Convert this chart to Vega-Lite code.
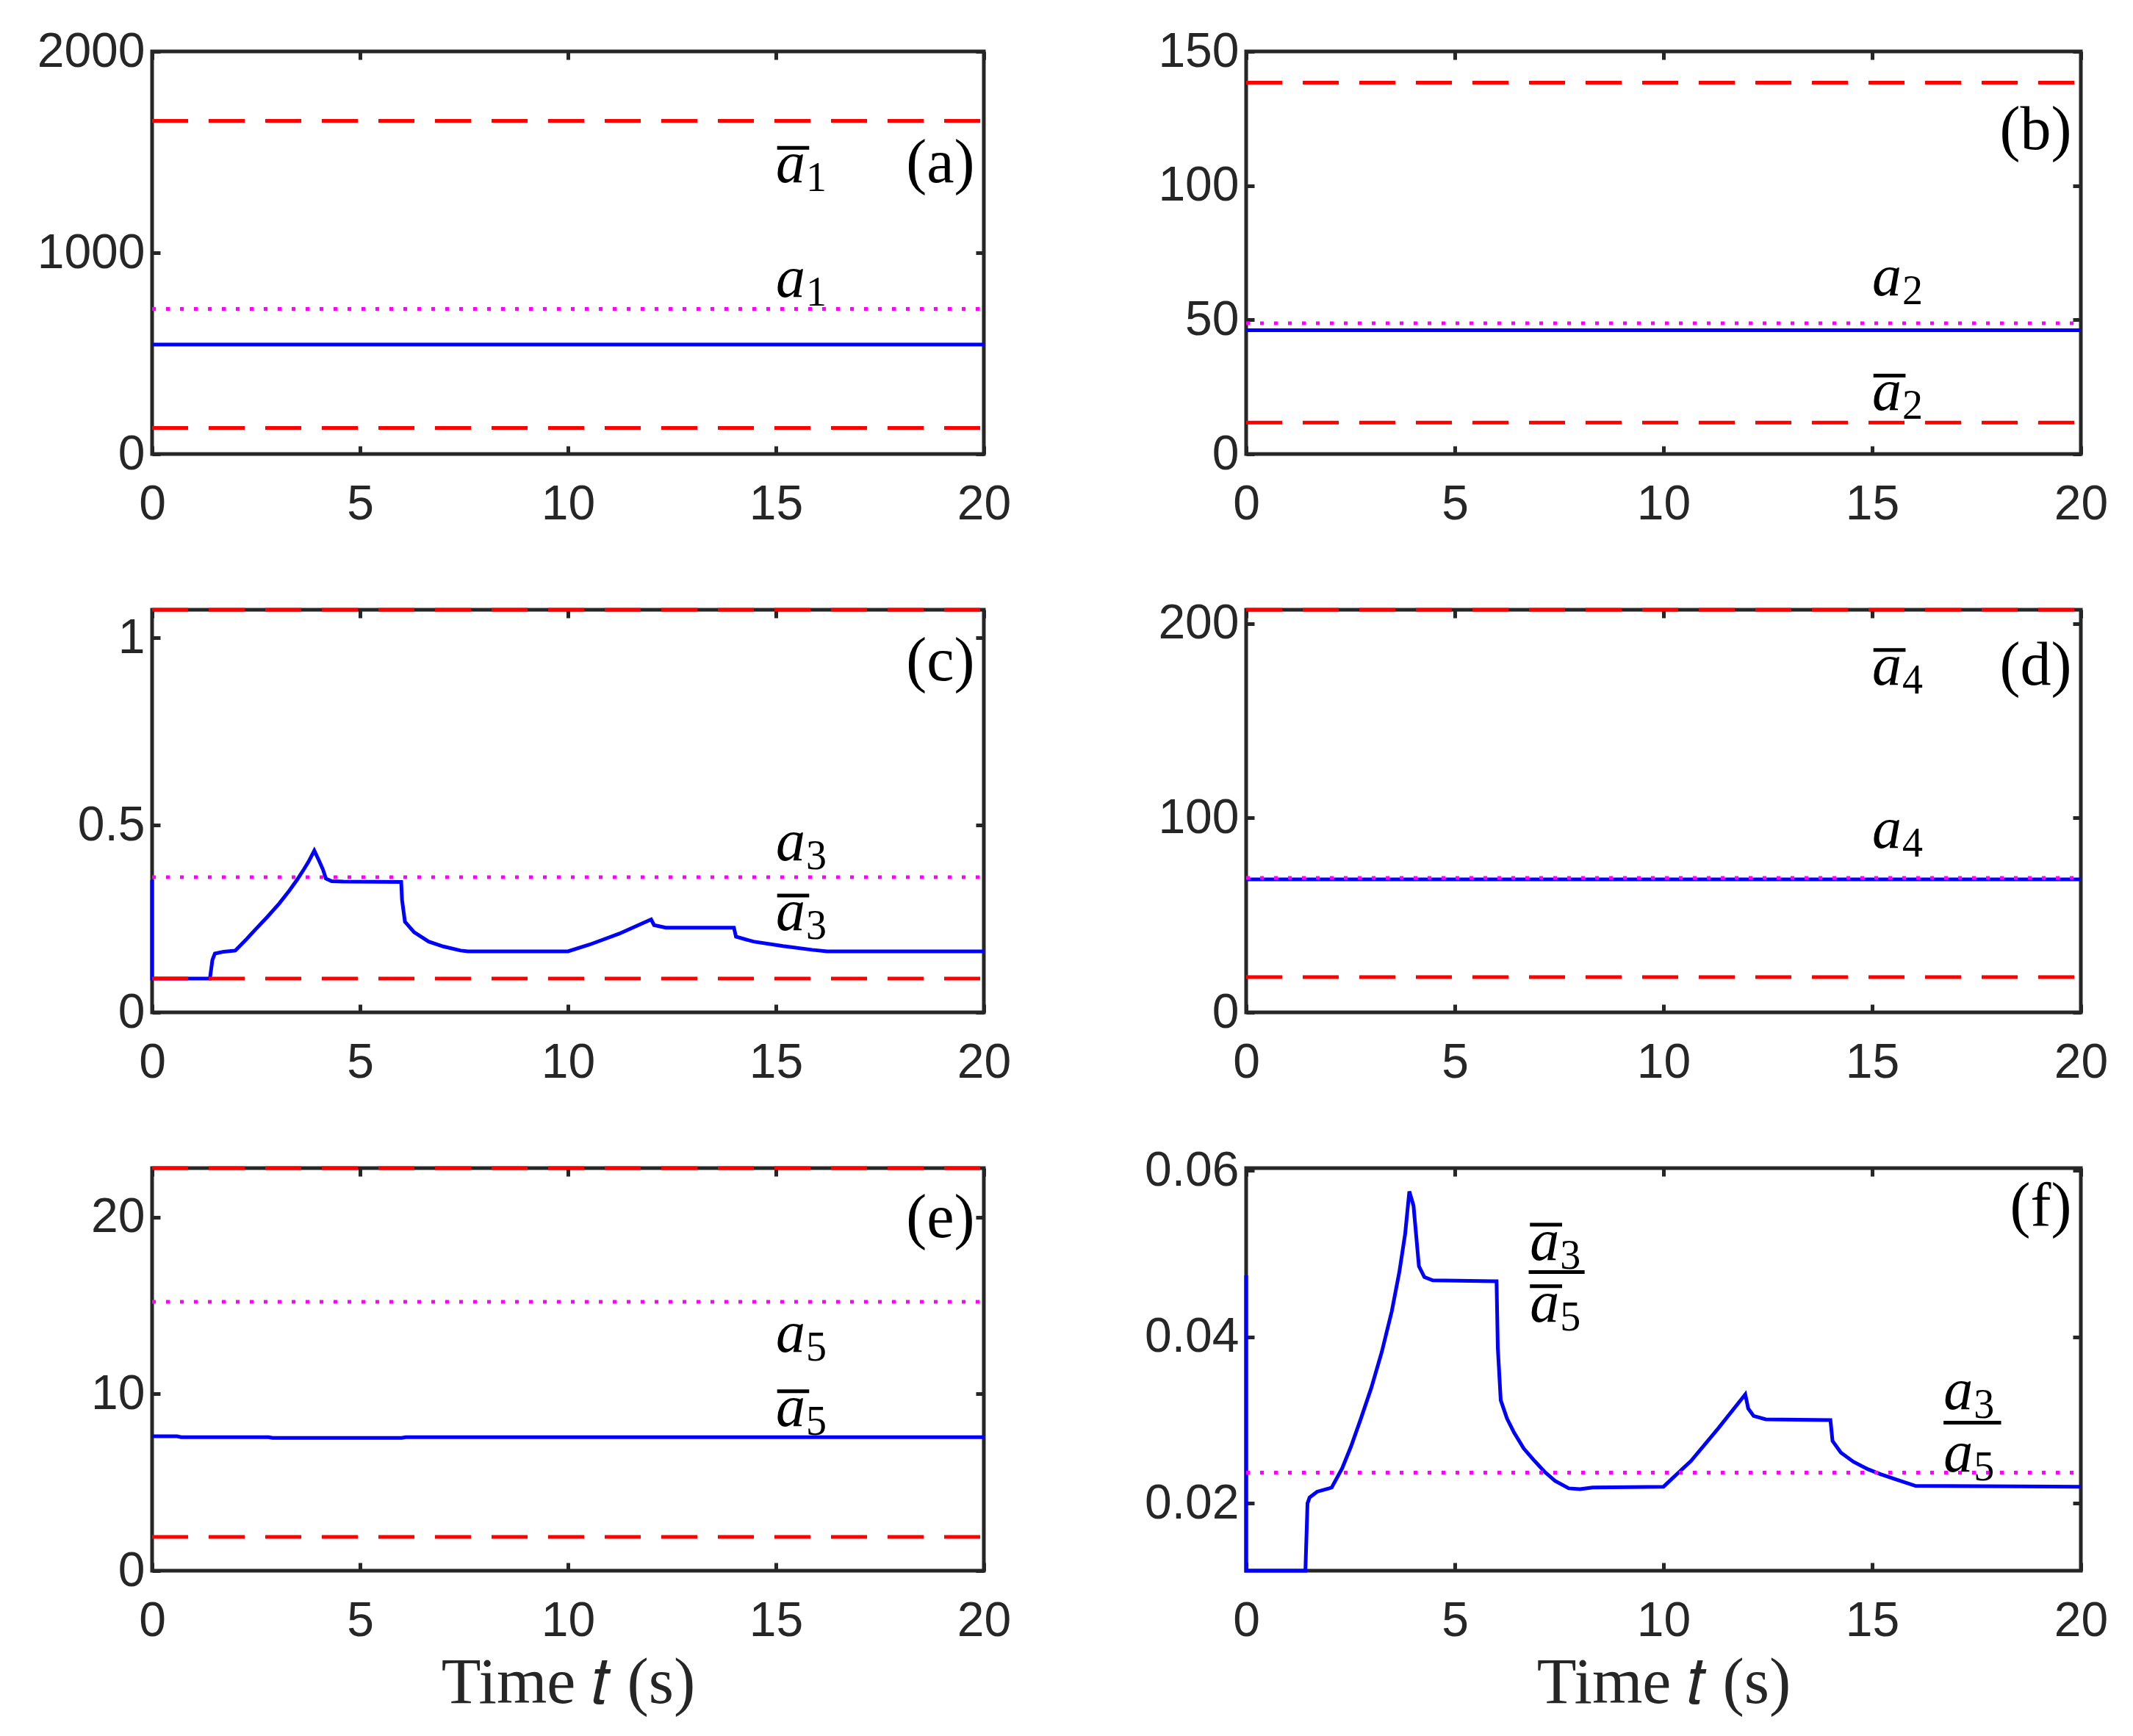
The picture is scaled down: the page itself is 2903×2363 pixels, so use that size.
{
  "$schema": "https://vega.github.io/schema/vega-lite/v6.json",
  "background": "white",
  "padding": {"left": 47, "top": 34, "right": 40, "bottom": 20},
  "config": {
    "view": {"stroke": "#262626", "strokeWidth": 5},
    "axis": {
      "grid": false, "domain": false, "labelFlush": false, "labelOverlap": false,
      "tickSize": -11, "tickWidth": 5, "tickColor": "#262626",
      "labelFont": "Liberation Sans", "labelFontSize": 66, "labelColor": "#262626", "labelLimit": 400,
      "titleFont": "Liberation Serif", "titleFontSize": 88, "titleFontWeight": "normal", "titleColor": "#262626",
      "titlePadding": 8
    },
    "axisX": {"labelPadding": 47},
    "axisY": {"labelPadding": 21}
  },
  "datasets": {
    "lines": [
      {"p": "a", "s": "est", "t": 0, "v": 544}, {"p": "a", "s": "est", "t": 20, "v": 544},
      {"p": "a", "s": "nom", "t": 0, "v": 721}, {"p": "a", "s": "nom", "t": 20, "v": 721},
      {"p": "a", "s": "up", "t": 0, "v": 1655}, {"p": "a", "s": "up", "t": 20, "v": 1655},
      {"p": "a", "s": "lo", "t": 0, "v": 130}, {"p": "a", "s": "lo", "t": 20, "v": 130},

      {"p": "b", "s": "est", "t": 0, "v": 46.1}, {"p": "b", "s": "est", "t": 20, "v": 46.1},
      {"p": "b", "s": "nom", "t": 0, "v": 48.7}, {"p": "b", "s": "nom", "t": 20, "v": 48.7},
      {"p": "b", "s": "up", "t": 0, "v": 138.4}, {"p": "b", "s": "up", "t": 20, "v": 138.4},
      {"p": "b", "s": "lo", "t": 0, "v": 11.7}, {"p": "b", "s": "lo", "t": 20, "v": 11.7},

      {"p": "c", "s": "est", "t": 0, "v": 0.353}, {"p": "c", "s": "est", "t": 0, "v": 0.09},
      {"p": "c", "s": "est", "t": 1.39, "v": 0.09}, {"p": "c", "s": "est", "t": 1.45, "v": 0.14},
      {"p": "c", "s": "est", "t": 1.51, "v": 0.157}, {"p": "c", "s": "est", "t": 1.72, "v": 0.162},
      {"p": "c", "s": "est", "t": 2.0, "v": 0.165}, {"p": "c", "s": "est", "t": 2.25, "v": 0.193},
      {"p": "c", "s": "est", "t": 2.49, "v": 0.222}, {"p": "c", "s": "est", "t": 2.78, "v": 0.256},
      {"p": "c", "s": "est", "t": 3.06, "v": 0.291}, {"p": "c", "s": "est", "t": 3.3, "v": 0.325},
      {"p": "c", "s": "est", "t": 3.48, "v": 0.353}, {"p": "c", "s": "est", "t": 3.65, "v": 0.382},
      {"p": "c", "s": "est", "t": 3.76, "v": 0.402}, {"p": "c", "s": "est", "t": 3.9, "v": 0.432},
      {"p": "c", "s": "est", "t": 4.01, "v": 0.406}, {"p": "c", "s": "est", "t": 4.11, "v": 0.381},
      {"p": "c", "s": "est", "t": 4.18, "v": 0.357}, {"p": "c", "s": "est", "t": 4.32, "v": 0.35},
      {"p": "c", "s": "est", "t": 4.6, "v": 0.349}, {"p": "c", "s": "est", "t": 5.99, "v": 0.348},
      {"p": "c", "s": "est", "t": 6.01, "v": 0.3}, {"p": "c", "s": "est", "t": 6.08, "v": 0.242},
      {"p": "c", "s": "est", "t": 6.3, "v": 0.214}, {"p": "c", "s": "est", "t": 6.65, "v": 0.189},
      {"p": "c", "s": "est", "t": 7.0, "v": 0.176}, {"p": "c", "s": "est", "t": 7.42, "v": 0.165},
      {"p": "c", "s": "est", "t": 7.6, "v": 0.163}, {"p": "c", "s": "est", "t": 10.0, "v": 0.163},
      {"p": "c", "s": "est", "t": 10.52, "v": 0.181}, {"p": "c", "s": "est", "t": 11.23, "v": 0.21},
      {"p": "c", "s": "est", "t": 12.0, "v": 0.248}, {"p": "c", "s": "est", "t": 12.07, "v": 0.233},
      {"p": "c", "s": "est", "t": 12.35, "v": 0.226}, {"p": "c", "s": "est", "t": 13.99, "v": 0.226},
      {"p": "c", "s": "est", "t": 14.04, "v": 0.202}, {"p": "c", "s": "est", "t": 14.46, "v": 0.189},
      {"p": "c", "s": "est", "t": 15.17, "v": 0.177}, {"p": "c", "s": "est", "t": 15.87, "v": 0.167},
      {"p": "c", "s": "est", "t": 16.23, "v": 0.163}, {"p": "c", "s": "est", "t": 20, "v": 0.163},
      {"p": "c", "s": "nom", "t": 0, "v": 0.361}, {"p": "c", "s": "nom", "t": 20, "v": 0.361},
      {"p": "c", "s": "up", "t": 0, "v": 1.075}, {"p": "c", "s": "up", "t": 20, "v": 1.075},
      {"p": "c", "s": "lo", "t": 0, "v": 0.09}, {"p": "c", "s": "lo", "t": 20, "v": 0.09},

      {"p": "d", "s": "est", "t": 0, "v": 68.4}, {"p": "d", "s": "est", "t": 20, "v": 68.4},
      {"p": "d", "s": "nom", "t": 0, "v": 69.1}, {"p": "d", "s": "nom", "t": 20, "v": 69.1},
      {"p": "d", "s": "up", "t": 0, "v": 207}, {"p": "d", "s": "up", "t": 20, "v": 207},
      {"p": "d", "s": "lo", "t": 0, "v": 18.1}, {"p": "d", "s": "lo", "t": 20, "v": 18.1},

      {"p": "e", "s": "est", "t": 0, "v": 7.6}, {"p": "e", "s": "est", "t": 0.6, "v": 7.6},
      {"p": "e", "s": "est", "t": 0.7, "v": 7.55}, {"p": "e", "s": "est", "t": 2.8, "v": 7.55},
      {"p": "e", "s": "est", "t": 2.9, "v": 7.51}, {"p": "e", "s": "est", "t": 6.0, "v": 7.51},
      {"p": "e", "s": "est", "t": 6.1, "v": 7.55}, {"p": "e", "s": "est", "t": 20, "v": 7.55},
      {"p": "e", "s": "nom", "t": 0, "v": 15.21}, {"p": "e", "s": "nom", "t": 20, "v": 15.21},
      {"p": "e", "s": "up", "t": 0, "v": 22.77}, {"p": "e", "s": "up", "t": 20, "v": 22.77},
      {"p": "e", "s": "lo", "t": 0, "v": 1.91}, {"p": "e", "s": "lo", "t": 20, "v": 1.91},

      {"p": "f", "s": "est", "t": 0, "v": 0.0474}, {"p": "f", "s": "est", "t": 0, "v": 0.0119},
      {"p": "f", "s": "est", "t": 1.42, "v": 0.0119}, {"p": "f", "s": "est", "t": 1.47, "v": 0.02},
      {"p": "f", "s": "est", "t": 1.52, "v": 0.0207}, {"p": "f", "s": "est", "t": 1.7, "v": 0.0214},
      {"p": "f", "s": "est", "t": 1.99, "v": 0.0218}, {"p": "f", "s": "est", "t": 2.05, "v": 0.0219},
      {"p": "f", "s": "est", "t": 2.3, "v": 0.0242}, {"p": "f", "s": "est", "t": 2.51, "v": 0.0268},
      {"p": "f", "s": "est", "t": 2.75, "v": 0.0302}, {"p": "f", "s": "est", "t": 3.0, "v": 0.0339},
      {"p": "f", "s": "est", "t": 3.25, "v": 0.0382}, {"p": "f", "s": "est", "t": 3.49, "v": 0.0431},
      {"p": "f", "s": "est", "t": 3.67, "v": 0.0478}, {"p": "f", "s": "est", "t": 3.81, "v": 0.0524},
      {"p": "f", "s": "est", "t": 3.91, "v": 0.0575},
      {"p": "f", "s": "est", "t": 4.01, "v": 0.0558}, {"p": "f", "s": "est", "t": 4.14, "v": 0.0485},
      {"p": "f", "s": "est", "t": 4.27, "v": 0.0472}, {"p": "f", "s": "est", "t": 4.47, "v": 0.0468},
      {"p": "f", "s": "est", "t": 6.0, "v": 0.0467}, {"p": "f", "s": "est", "t": 6.03, "v": 0.0387},
      {"p": "f", "s": "est", "t": 6.1, "v": 0.0324}, {"p": "f", "s": "est", "t": 6.25, "v": 0.0302},
      {"p": "f", "s": "est", "t": 6.42, "v": 0.0285}, {"p": "f", "s": "est", "t": 6.65, "v": 0.0266},
      {"p": "f", "s": "est", "t": 6.91, "v": 0.0251}, {"p": "f", "s": "est", "t": 7.15, "v": 0.0238},
      {"p": "f", "s": "est", "t": 7.4, "v": 0.0227},
      {"p": "f", "s": "est", "t": 7.73, "v": 0.0218}, {"p": "f", "s": "est", "t": 8.0, "v": 0.0217},
      {"p": "f", "s": "est", "t": 8.3, "v": 0.0219}, {"p": "f", "s": "est", "t": 10.0, "v": 0.022},
      {"p": "f", "s": "est", "t": 10.66, "v": 0.0251}, {"p": "f", "s": "est", "t": 11.31, "v": 0.029},
      {"p": "f", "s": "est", "t": 11.96, "v": 0.0331}, {"p": "f", "s": "est", "t": 12.03, "v": 0.0314},
      {"p": "f", "s": "est", "t": 12.16, "v": 0.0305}, {"p": "f", "s": "est", "t": 12.45, "v": 0.0301},
      {"p": "f", "s": "est", "t": 14.0, "v": 0.03}, {"p": "f", "s": "est", "t": 14.05, "v": 0.0275},
      {"p": "f", "s": "est", "t": 14.25, "v": 0.0261}, {"p": "f", "s": "est", "t": 14.55, "v": 0.025},
      {"p": "f", "s": "est", "t": 14.9, "v": 0.0241}, {"p": "f", "s": "est", "t": 15.2, "v": 0.0235},
      {"p": "f", "s": "est", "t": 15.55, "v": 0.0229}, {"p": "f", "s": "est", "t": 16.04, "v": 0.0221},
      {"p": "f", "s": "est", "t": 20, "v": 0.022},
      {"p": "f", "s": "nom", "t": 0, "v": 0.0237}, {"p": "f", "s": "nom", "t": 20, "v": 0.0237}
    ],
    "labels": [
      {"p": "a", "t": 15, "v": 1350, "base": "a", "sub": "1"},
      {"p": "a", "t": 15, "v": 780, "base": "a", "sub": "1"},
      {"p": "b", "t": 15, "v": 59, "base": "a", "sub": "2"},
      {"p": "b", "t": 15, "v": 16.3, "base": "a", "sub": "2"},
      {"p": "c", "t": 15, "v": 0.406, "base": "a", "sub": "3"},
      {"p": "c", "t": 15, "v": 0.22, "base": "a", "sub": "3"},
      {"p": "d", "t": 15, "v": 168.5, "base": "a", "sub": "4"},
      {"p": "d", "t": 15, "v": 84.6, "base": "a", "sub": "4"},
      {"p": "e", "t": 15, "v": 12.4, "base": "a", "sub": "5"},
      {"p": "e", "t": 15, "v": 8.2, "base": "a", "sub": "5"},
      {"p": "f", "t": 6.8, "v": 0.0493, "base": "a", "sub": "3"},
      {"p": "f", "t": 6.8, "v": 0.0418, "base": "a", "sub": "5"},
      {"p": "f", "t": 16.71, "v": 0.0313, "base": "a", "sub": "3"},
      {"p": "f", "t": 16.71, "v": 0.0238, "base": "a", "sub": "5"}
    ],
    "tags": [
      {"p": "a", "t": 19.78, "v": 1350, "txt": "(a)"},
      {"p": "b", "t": 19.78, "v": 113.5, "txt": "(b)"},
      {"p": "c", "t": 19.78, "v": 0.886, "txt": "(c)"},
      {"p": "d", "t": 19.78, "v": 168.5, "txt": "(d)"},
      {"p": "e", "t": 19.78, "v": 18.86, "txt": "(e)"},
      {"p": "f", "t": 19.78, "v": 0.0534, "txt": "(f)"}
    ],
    "bars": [
      {"p": "a", "t": 15.03, "t2": 15.8, "v": 1521},
      {"p": "b", "t": 15.03, "t2": 15.8, "v": 29.2},
      {"p": "c", "t": 15.03, "t2": 15.8, "v": 0.312},
      {"p": "d", "t": 15.03, "t2": 15.8, "v": 186.3},
      {"p": "e", "t": 15.03, "t2": 15.8, "v": 10.15},
      {"p": "f", "t": 6.8, "t2": 7.57, "v": 0.0535},
      {"p": "f", "t": 6.8, "t2": 7.57, "v": 0.0461},
      {"p": "f", "t": 6.77, "t2": 8.11, "v": 0.0478},
      {"p": "f", "t": 16.71, "t2": 18.09, "v": 0.0297}
    ]
  },
  "columns": 2,
  "spacing": {"row": 212, "column": 357},
  "bounds": "flush",
  "concat": [
    {
      "width": 1132, "height": 548,
      "resolve": {"axis": {"x": "independent", "y": "independent"}},
      "layer": [
        {"data": {"name": "lines"}, "transform": [{"filter": "datum.p=='a' && datum.s=='est'"}],
         "mark": {"type": "line", "color": "#0000FF", "strokeWidth": 5},
         "encoding": {
           "x": {"field": "t", "type": "quantitative", "scale": {"domain": [0, 20], "nice": false, "zero": false}, "axis": {"values": [0, 5, 10, 15, 20], "title": null}},
           "y": {"field": "v", "type": "quantitative", "scale": {"domain": [0, 2000], "nice": false, "zero": false}, "axis": {"values": [0, 1000, 2000], "format": "d", "title": null}},
           "order": {"value": null}}},
        {"data": {"name": "lines"}, "transform": [{"filter": "datum.p=='a' && datum.s=='nom'"}],
         "mark": {"type": "line", "color": "#FF00FF", "strokeWidth": 5, "strokeDash": [5, 14]},
         "encoding": {
           "x": {"field": "t", "type": "quantitative", "scale": {"domain": [0, 20], "nice": false, "zero": false}, "axis": null},
           "y": {"field": "v", "type": "quantitative", "scale": {"domain": [0, 2000], "nice": false, "zero": false}, "axis": null}}},
        {"data": {"name": "lines"}, "transform": [{"filter": "datum.p=='a' && (datum.s=='up' || datum.s=='lo')"}],
         "mark": {"type": "line", "color": "#FF0000", "strokeWidth": 5, "strokeDash": [49, 28]},
         "encoding": {
           "x": {"field": "t", "type": "quantitative", "scale": {"domain": [0, 20], "nice": false, "zero": false}, "axis": null},
           "y": {"field": "v", "type": "quantitative", "scale": {"domain": [0, 2000], "nice": false, "zero": false}, "axis": null},
           "detail": {"field": "s"}}},
        {"data": {"name": "bars"}, "transform": [{"filter": "datum.p=='a'"}],
         "mark": {"type": "rule", "color": "#000000", "strokeWidth": 5},
         "encoding": {
           "x": {"field": "t", "type": "quantitative", "scale": {"domain": [0, 20], "nice": false, "zero": false}, "axis": null},
           "x2": {"field": "t2"},
           "y": {"field": "v", "type": "quantitative", "scale": {"domain": [0, 2000], "nice": false, "zero": false}, "axis": null}}},
        {"data": {"name": "labels"}, "transform": [{"filter": "datum.p=='a'"}],
         "mark": {"type": "text", "font": "Liberation Serif", "fontStyle": "italic", "fontSize": 80, "align": "left", "baseline": "alphabetic", "color": "#000000"},
         "encoding": {
           "x": {"field": "t", "type": "quantitative", "scale": {"domain": [0, 20], "nice": false, "zero": false}, "axis": null},
           "y": {"field": "v", "type": "quantitative", "scale": {"domain": [0, 2000], "nice": false, "zero": false}, "axis": null},
           "text": {"field": "base"}}},
        {"data": {"name": "labels"}, "transform": [{"filter": "datum.p=='a'"}],
         "mark": {"type": "text", "font": "Liberation Serif", "fontSize": 56, "align": "left", "baseline": "alphabetic", "dx": 41, "dy": 12, "color": "#000000"},
         "encoding": {
           "x": {"field": "t", "type": "quantitative", "scale": {"domain": [0, 20], "nice": false, "zero": false}, "axis": null},
           "y": {"field": "v", "type": "quantitative", "scale": {"domain": [0, 2000], "nice": false, "zero": false}, "axis": null},
           "text": {"field": "sub"}}},
        {"data": {"name": "tags"}, "transform": [{"filter": "datum.p=='a'"}],
         "mark": {"type": "text", "font": "Liberation Serif", "fontSize": 84, "align": "right", "baseline": "alphabetic", "color": "#000000"},
         "encoding": {
           "x": {"field": "t", "type": "quantitative", "scale": {"domain": [0, 20], "nice": false, "zero": false}, "axis": {"orient": "top", "values": [0, 5, 10, 15, 20], "labels": false, "title": null}},
           "y": {"field": "v", "type": "quantitative", "scale": {"domain": [0, 2000], "nice": false, "zero": false}, "axis": {"orient": "right", "values": [0, 1000, 2000], "labels": false, "title": null}},
           "text": {"field": "txt"}}}
      ]
    },
    {
      "width": 1136, "height": 548,
      "resolve": {"axis": {"x": "independent", "y": "independent"}},
      "layer": [
        {"data": {"name": "lines"}, "transform": [{"filter": "datum.p=='b' && datum.s=='est'"}],
         "mark": {"type": "line", "color": "#0000FF", "strokeWidth": 5},
         "encoding": {
           "x": {"field": "t", "type": "quantitative", "scale": {"domain": [0, 20], "nice": false, "zero": false}, "axis": {"values": [0, 5, 10, 15, 20], "title": null}},
           "y": {"field": "v", "type": "quantitative", "scale": {"domain": [0, 150], "nice": false, "zero": false}, "axis": {"values": [0, 50, 100, 150], "format": "d", "title": null}},
           "order": {"value": null}}},
        {"data": {"name": "lines"}, "transform": [{"filter": "datum.p=='b' && datum.s=='nom'"}],
         "mark": {"type": "line", "color": "#FF00FF", "strokeWidth": 5, "strokeDash": [5, 14]},
         "encoding": {
           "x": {"field": "t", "type": "quantitative", "scale": {"domain": [0, 20], "nice": false, "zero": false}, "axis": null},
           "y": {"field": "v", "type": "quantitative", "scale": {"domain": [0, 150], "nice": false, "zero": false}, "axis": null}}},
        {"data": {"name": "lines"}, "transform": [{"filter": "datum.p=='b' && (datum.s=='up' || datum.s=='lo')"}],
         "mark": {"type": "line", "color": "#FF0000", "strokeWidth": 5, "strokeDash": [49, 28]},
         "encoding": {
           "x": {"field": "t", "type": "quantitative", "scale": {"domain": [0, 20], "nice": false, "zero": false}, "axis": null},
           "y": {"field": "v", "type": "quantitative", "scale": {"domain": [0, 150], "nice": false, "zero": false}, "axis": null},
           "detail": {"field": "s"}}},
        {"data": {"name": "bars"}, "transform": [{"filter": "datum.p=='b'"}],
         "mark": {"type": "rule", "color": "#000000", "strokeWidth": 5},
         "encoding": {
           "x": {"field": "t", "type": "quantitative", "scale": {"domain": [0, 20], "nice": false, "zero": false}, "axis": null},
           "x2": {"field": "t2"},
           "y": {"field": "v", "type": "quantitative", "scale": {"domain": [0, 150], "nice": false, "zero": false}, "axis": null}}},
        {"data": {"name": "labels"}, "transform": [{"filter": "datum.p=='b'"}],
         "mark": {"type": "text", "font": "Liberation Serif", "fontStyle": "italic", "fontSize": 80, "align": "left", "baseline": "alphabetic", "color": "#000000"},
         "encoding": {
           "x": {"field": "t", "type": "quantitative", "scale": {"domain": [0, 20], "nice": false, "zero": false}, "axis": null},
           "y": {"field": "v", "type": "quantitative", "scale": {"domain": [0, 150], "nice": false, "zero": false}, "axis": null},
           "text": {"field": "base"}}},
        {"data": {"name": "labels"}, "transform": [{"filter": "datum.p=='b'"}],
         "mark": {"type": "text", "font": "Liberation Serif", "fontSize": 56, "align": "left", "baseline": "alphabetic", "dx": 41, "dy": 12, "color": "#000000"},
         "encoding": {
           "x": {"field": "t", "type": "quantitative", "scale": {"domain": [0, 20], "nice": false, "zero": false}, "axis": null},
           "y": {"field": "v", "type": "quantitative", "scale": {"domain": [0, 150], "nice": false, "zero": false}, "axis": null},
           "text": {"field": "sub"}}},
        {"data": {"name": "tags"}, "transform": [{"filter": "datum.p=='b'"}],
         "mark": {"type": "text", "font": "Liberation Serif", "fontSize": 84, "align": "right", "baseline": "alphabetic", "color": "#000000"},
         "encoding": {
           "x": {"field": "t", "type": "quantitative", "scale": {"domain": [0, 20], "nice": false, "zero": false}, "axis": {"orient": "top", "values": [0, 5, 10, 15, 20], "labels": false, "title": null}},
           "y": {"field": "v", "type": "quantitative", "scale": {"domain": [0, 150], "nice": false, "zero": false}, "axis": {"orient": "right", "values": [0, 50, 100, 150], "labels": false, "title": null}},
           "text": {"field": "txt"}}}
      ]
    },
    {
      "width": 1132, "height": 548,
      "resolve": {"axis": {"x": "independent", "y": "independent"}},
      "layer": [
        {"data": {"name": "lines"}, "transform": [{"filter": "datum.p=='c' && datum.s=='est'"}],
         "mark": {"type": "line", "color": "#0000FF", "strokeWidth": 5},
         "encoding": {
           "x": {"field": "t", "type": "quantitative", "scale": {"domain": [0, 20], "nice": false, "zero": false}, "axis": {"values": [0, 5, 10, 15, 20], "title": null}},
           "y": {"field": "v", "type": "quantitative", "scale": {"domain": [0, 1.075], "nice": false, "zero": false}, "axis": {"values": [0, 0.5, 1], "format": ".1~f", "title": null}},
           "order": {"value": null}}},
        {"data": {"name": "lines"}, "transform": [{"filter": "datum.p=='c' && datum.s=='nom'"}],
         "mark": {"type": "line", "color": "#FF00FF", "strokeWidth": 5, "strokeDash": [5, 14]},
         "encoding": {
           "x": {"field": "t", "type": "quantitative", "scale": {"domain": [0, 20], "nice": false, "zero": false}, "axis": null},
           "y": {"field": "v", "type": "quantitative", "scale": {"domain": [0, 1.075], "nice": false, "zero": false}, "axis": null}}},
        {"data": {"name": "lines"}, "transform": [{"filter": "datum.p=='c' && (datum.s=='up' || datum.s=='lo')"}],
         "mark": {"type": "line", "color": "#FF0000", "strokeWidth": 5, "strokeDash": [49, 28]},
         "encoding": {
           "x": {"field": "t", "type": "quantitative", "scale": {"domain": [0, 20], "nice": false, "zero": false}, "axis": null},
           "y": {"field": "v", "type": "quantitative", "scale": {"domain": [0, 1.075], "nice": false, "zero": false}, "axis": null},
           "detail": {"field": "s"}}},
        {"data": {"name": "bars"}, "transform": [{"filter": "datum.p=='c'"}],
         "mark": {"type": "rule", "color": "#000000", "strokeWidth": 5},
         "encoding": {
           "x": {"field": "t", "type": "quantitative", "scale": {"domain": [0, 20], "nice": false, "zero": false}, "axis": null},
           "x2": {"field": "t2"},
           "y": {"field": "v", "type": "quantitative", "scale": {"domain": [0, 1.075], "nice": false, "zero": false}, "axis": null}}},
        {"data": {"name": "labels"}, "transform": [{"filter": "datum.p=='c'"}],
         "mark": {"type": "text", "font": "Liberation Serif", "fontStyle": "italic", "fontSize": 80, "align": "left", "baseline": "alphabetic", "color": "#000000"},
         "encoding": {
           "x": {"field": "t", "type": "quantitative", "scale": {"domain": [0, 20], "nice": false, "zero": false}, "axis": null},
           "y": {"field": "v", "type": "quantitative", "scale": {"domain": [0, 1.075], "nice": false, "zero": false}, "axis": null},
           "text": {"field": "base"}}},
        {"data": {"name": "labels"}, "transform": [{"filter": "datum.p=='c'"}],
         "mark": {"type": "text", "font": "Liberation Serif", "fontSize": 56, "align": "left", "baseline": "alphabetic", "dx": 41, "dy": 12, "color": "#000000"},
         "encoding": {
           "x": {"field": "t", "type": "quantitative", "scale": {"domain": [0, 20], "nice": false, "zero": false}, "axis": null},
           "y": {"field": "v", "type": "quantitative", "scale": {"domain": [0, 1.075], "nice": false, "zero": false}, "axis": null},
           "text": {"field": "sub"}}},
        {"data": {"name": "tags"}, "transform": [{"filter": "datum.p=='c'"}],
         "mark": {"type": "text", "font": "Liberation Serif", "fontSize": 84, "align": "right", "baseline": "alphabetic", "color": "#000000"},
         "encoding": {
           "x": {"field": "t", "type": "quantitative", "scale": {"domain": [0, 20], "nice": false, "zero": false}, "axis": {"orient": "top", "values": [0, 5, 10, 15, 20], "labels": false, "title": null}},
           "y": {"field": "v", "type": "quantitative", "scale": {"domain": [0, 1.075], "nice": false, "zero": false}, "axis": {"orient": "right", "values": [0, 0.5, 1], "labels": false, "title": null}},
           "text": {"field": "txt"}}}
      ]
    },
    {
      "width": 1136, "height": 548,
      "resolve": {"axis": {"x": "independent", "y": "independent"}},
      "layer": [
        {"data": {"name": "lines"}, "transform": [{"filter": "datum.p=='d' && datum.s=='est'"}],
         "mark": {"type": "line", "color": "#0000FF", "strokeWidth": 5},
         "encoding": {
           "x": {"field": "t", "type": "quantitative", "scale": {"domain": [0, 20], "nice": false, "zero": false}, "axis": {"values": [0, 5, 10, 15, 20], "title": null}},
           "y": {"field": "v", "type": "quantitative", "scale": {"domain": [0, 207], "nice": false, "zero": false}, "axis": {"values": [0, 100, 200], "format": "d", "title": null}},
           "order": {"value": null}}},
        {"data": {"name": "lines"}, "transform": [{"filter": "datum.p=='d' && datum.s=='nom'"}],
         "mark": {"type": "line", "color": "#FF00FF", "strokeWidth": 5, "strokeDash": [5, 14]},
         "encoding": {
           "x": {"field": "t", "type": "quantitative", "scale": {"domain": [0, 20], "nice": false, "zero": false}, "axis": null},
           "y": {"field": "v", "type": "quantitative", "scale": {"domain": [0, 207], "nice": false, "zero": false}, "axis": null}}},
        {"data": {"name": "lines"}, "transform": [{"filter": "datum.p=='d' && (datum.s=='up' || datum.s=='lo')"}],
         "mark": {"type": "line", "color": "#FF0000", "strokeWidth": 5, "strokeDash": [49, 28]},
         "encoding": {
           "x": {"field": "t", "type": "quantitative", "scale": {"domain": [0, 20], "nice": false, "zero": false}, "axis": null},
           "y": {"field": "v", "type": "quantitative", "scale": {"domain": [0, 207], "nice": false, "zero": false}, "axis": null},
           "detail": {"field": "s"}}},
        {"data": {"name": "bars"}, "transform": [{"filter": "datum.p=='d'"}],
         "mark": {"type": "rule", "color": "#000000", "strokeWidth": 5},
         "encoding": {
           "x": {"field": "t", "type": "quantitative", "scale": {"domain": [0, 20], "nice": false, "zero": false}, "axis": null},
           "x2": {"field": "t2"},
           "y": {"field": "v", "type": "quantitative", "scale": {"domain": [0, 207], "nice": false, "zero": false}, "axis": null}}},
        {"data": {"name": "labels"}, "transform": [{"filter": "datum.p=='d'"}],
         "mark": {"type": "text", "font": "Liberation Serif", "fontStyle": "italic", "fontSize": 80, "align": "left", "baseline": "alphabetic", "color": "#000000"},
         "encoding": {
           "x": {"field": "t", "type": "quantitative", "scale": {"domain": [0, 20], "nice": false, "zero": false}, "axis": null},
           "y": {"field": "v", "type": "quantitative", "scale": {"domain": [0, 207], "nice": false, "zero": false}, "axis": null},
           "text": {"field": "base"}}},
        {"data": {"name": "labels"}, "transform": [{"filter": "datum.p=='d'"}],
         "mark": {"type": "text", "font": "Liberation Serif", "fontSize": 56, "align": "left", "baseline": "alphabetic", "dx": 41, "dy": 12, "color": "#000000"},
         "encoding": {
           "x": {"field": "t", "type": "quantitative", "scale": {"domain": [0, 20], "nice": false, "zero": false}, "axis": null},
           "y": {"field": "v", "type": "quantitative", "scale": {"domain": [0, 207], "nice": false, "zero": false}, "axis": null},
           "text": {"field": "sub"}}},
        {"data": {"name": "tags"}, "transform": [{"filter": "datum.p=='d'"}],
         "mark": {"type": "text", "font": "Liberation Serif", "fontSize": 84, "align": "right", "baseline": "alphabetic", "color": "#000000"},
         "encoding": {
           "x": {"field": "t", "type": "quantitative", "scale": {"domain": [0, 20], "nice": false, "zero": false}, "axis": {"orient": "top", "values": [0, 5, 10, 15, 20], "labels": false, "title": null}},
           "y": {"field": "v", "type": "quantitative", "scale": {"domain": [0, 207], "nice": false, "zero": false}, "axis": {"orient": "right", "values": [0, 100, 200], "labels": false, "title": null}},
           "text": {"field": "txt"}}}
      ]
    },
    {
      "width": 1132, "height": 548,
      "resolve": {"axis": {"x": "independent", "y": "independent"}},
      "layer": [
        {"data": {"name": "lines"}, "transform": [{"filter": "datum.p=='e' && datum.s=='est'"}],
         "mark": {"type": "line", "color": "#0000FF", "strokeWidth": 5},
         "encoding": {
           "x": {"field": "t", "type": "quantitative", "scale": {"domain": [0, 20], "nice": false, "zero": false}, "axis": {"values": [0, 5, 10, 15, 20], "title": "Time 𝑡 (s)"}},
           "y": {"field": "v", "type": "quantitative", "scale": {"domain": [0, 22.77], "nice": false, "zero": false}, "axis": {"values": [0, 10, 20], "format": "d", "title": null}},
           "order": {"value": null}}},
        {"data": {"name": "lines"}, "transform": [{"filter": "datum.p=='e' && datum.s=='nom'"}],
         "mark": {"type": "line", "color": "#FF00FF", "strokeWidth": 5, "strokeDash": [5, 14]},
         "encoding": {
           "x": {"field": "t", "type": "quantitative", "scale": {"domain": [0, 20], "nice": false, "zero": false}, "axis": null},
           "y": {"field": "v", "type": "quantitative", "scale": {"domain": [0, 22.77], "nice": false, "zero": false}, "axis": null}}},
        {"data": {"name": "lines"}, "transform": [{"filter": "datum.p=='e' && (datum.s=='up' || datum.s=='lo')"}],
         "mark": {"type": "line", "color": "#FF0000", "strokeWidth": 5, "strokeDash": [49, 28]},
         "encoding": {
           "x": {"field": "t", "type": "quantitative", "scale": {"domain": [0, 20], "nice": false, "zero": false}, "axis": null},
           "y": {"field": "v", "type": "quantitative", "scale": {"domain": [0, 22.77], "nice": false, "zero": false}, "axis": null},
           "detail": {"field": "s"}}},
        {"data": {"name": "bars"}, "transform": [{"filter": "datum.p=='e'"}],
         "mark": {"type": "rule", "color": "#000000", "strokeWidth": 5},
         "encoding": {
           "x": {"field": "t", "type": "quantitative", "scale": {"domain": [0, 20], "nice": false, "zero": false}, "axis": null},
           "x2": {"field": "t2"},
           "y": {"field": "v", "type": "quantitative", "scale": {"domain": [0, 22.77], "nice": false, "zero": false}, "axis": null}}},
        {"data": {"name": "labels"}, "transform": [{"filter": "datum.p=='e'"}],
         "mark": {"type": "text", "font": "Liberation Serif", "fontStyle": "italic", "fontSize": 80, "align": "left", "baseline": "alphabetic", "color": "#000000"},
         "encoding": {
           "x": {"field": "t", "type": "quantitative", "scale": {"domain": [0, 20], "nice": false, "zero": false}, "axis": null},
           "y": {"field": "v", "type": "quantitative", "scale": {"domain": [0, 22.77], "nice": false, "zero": false}, "axis": null},
           "text": {"field": "base"}}},
        {"data": {"name": "labels"}, "transform": [{"filter": "datum.p=='e'"}],
         "mark": {"type": "text", "font": "Liberation Serif", "fontSize": 56, "align": "left", "baseline": "alphabetic", "dx": 41, "dy": 12, "color": "#000000"},
         "encoding": {
           "x": {"field": "t", "type": "quantitative", "scale": {"domain": [0, 20], "nice": false, "zero": false}, "axis": null},
           "y": {"field": "v", "type": "quantitative", "scale": {"domain": [0, 22.77], "nice": false, "zero": false}, "axis": null},
           "text": {"field": "sub"}}},
        {"data": {"name": "tags"}, "transform": [{"filter": "datum.p=='e'"}],
         "mark": {"type": "text", "font": "Liberation Serif", "fontSize": 84, "align": "right", "baseline": "alphabetic", "color": "#000000"},
         "encoding": {
           "x": {"field": "t", "type": "quantitative", "scale": {"domain": [0, 20], "nice": false, "zero": false}, "axis": {"orient": "top", "values": [0, 5, 10, 15, 20], "labels": false, "title": null}},
           "y": {"field": "v", "type": "quantitative", "scale": {"domain": [0, 22.77], "nice": false, "zero": false}, "axis": {"orient": "right", "values": [0, 10, 20], "labels": false, "title": null}},
           "text": {"field": "txt"}}}
      ]
    },
    {
      "width": 1136, "height": 548,
      "resolve": {"axis": {"x": "independent", "y": "independent"}},
      "layer": [
        {"data": {"name": "lines"}, "transform": [{"filter": "datum.p=='f' && datum.s=='est'"}],
         "mark": {"type": "line", "color": "#0000FF", "strokeWidth": 5},
         "encoding": {
           "x": {"field": "t", "type": "quantitative", "scale": {"domain": [0, 20], "nice": false, "zero": false}, "axis": {"values": [0, 5, 10, 15, 20], "title": "Time 𝑡 (s)"}},
           "y": {"field": "v", "type": "quantitative", "scale": {"domain": [0.0119, 0.0603], "nice": false, "zero": false}, "axis": {"values": [0.02, 0.04, 0.06], "format": ".2f", "title": null}},
           "order": {"value": null}}},
        {"data": {"name": "lines"}, "transform": [{"filter": "datum.p=='f' && datum.s=='nom'"}],
         "mark": {"type": "line", "color": "#FF00FF", "strokeWidth": 5, "strokeDash": [5, 14]},
         "encoding": {
           "x": {"field": "t", "type": "quantitative", "scale": {"domain": [0, 20], "nice": false, "zero": false}, "axis": null},
           "y": {"field": "v", "type": "quantitative", "scale": {"domain": [0.0119, 0.0603], "nice": false, "zero": false}, "axis": null}}},
        {"data": {"name": "bars"}, "transform": [{"filter": "datum.p=='f'"}],
         "mark": {"type": "rule", "color": "#000000", "strokeWidth": 5},
         "encoding": {
           "x": {"field": "t", "type": "quantitative", "scale": {"domain": [0, 20], "nice": false, "zero": false}, "axis": null},
           "x2": {"field": "t2"},
           "y": {"field": "v", "type": "quantitative", "scale": {"domain": [0.0119, 0.0603], "nice": false, "zero": false}, "axis": null}}},
        {"data": {"name": "labels"}, "transform": [{"filter": "datum.p=='f'"}],
         "mark": {"type": "text", "font": "Liberation Serif", "fontStyle": "italic", "fontSize": 80, "align": "left", "baseline": "alphabetic", "color": "#000000"},
         "encoding": {
           "x": {"field": "t", "type": "quantitative", "scale": {"domain": [0, 20], "nice": false, "zero": false}, "axis": null},
           "y": {"field": "v", "type": "quantitative", "scale": {"domain": [0.0119, 0.0603], "nice": false, "zero": false}, "axis": null},
           "text": {"field": "base"}}},
        {"data": {"name": "labels"}, "transform": [{"filter": "datum.p=='f'"}],
         "mark": {"type": "text", "font": "Liberation Serif", "fontSize": 56, "align": "left", "baseline": "alphabetic", "dx": 41, "dy": 12, "color": "#000000"},
         "encoding": {
           "x": {"field": "t", "type": "quantitative", "scale": {"domain": [0, 20], "nice": false, "zero": false}, "axis": null},
           "y": {"field": "v", "type": "quantitative", "scale": {"domain": [0.0119, 0.0603], "nice": false, "zero": false}, "axis": null},
           "text": {"field": "sub"}}},
        {"data": {"name": "tags"}, "transform": [{"filter": "datum.p=='f'"}],
         "mark": {"type": "text", "font": "Liberation Serif", "fontSize": 84, "align": "right", "baseline": "alphabetic", "color": "#000000"},
         "encoding": {
           "x": {"field": "t", "type": "quantitative", "scale": {"domain": [0, 20], "nice": false, "zero": false}, "axis": {"orient": "top", "values": [0, 5, 10, 15, 20], "labels": false, "title": null}},
           "y": {"field": "v", "type": "quantitative", "scale": {"domain": [0.0119, 0.0603], "nice": false, "zero": false}, "axis": {"orient": "right", "values": [0.02, 0.04, 0.06], "labels": false, "title": null}},
           "text": {"field": "txt"}}}
      ]
    }
  ]
}
